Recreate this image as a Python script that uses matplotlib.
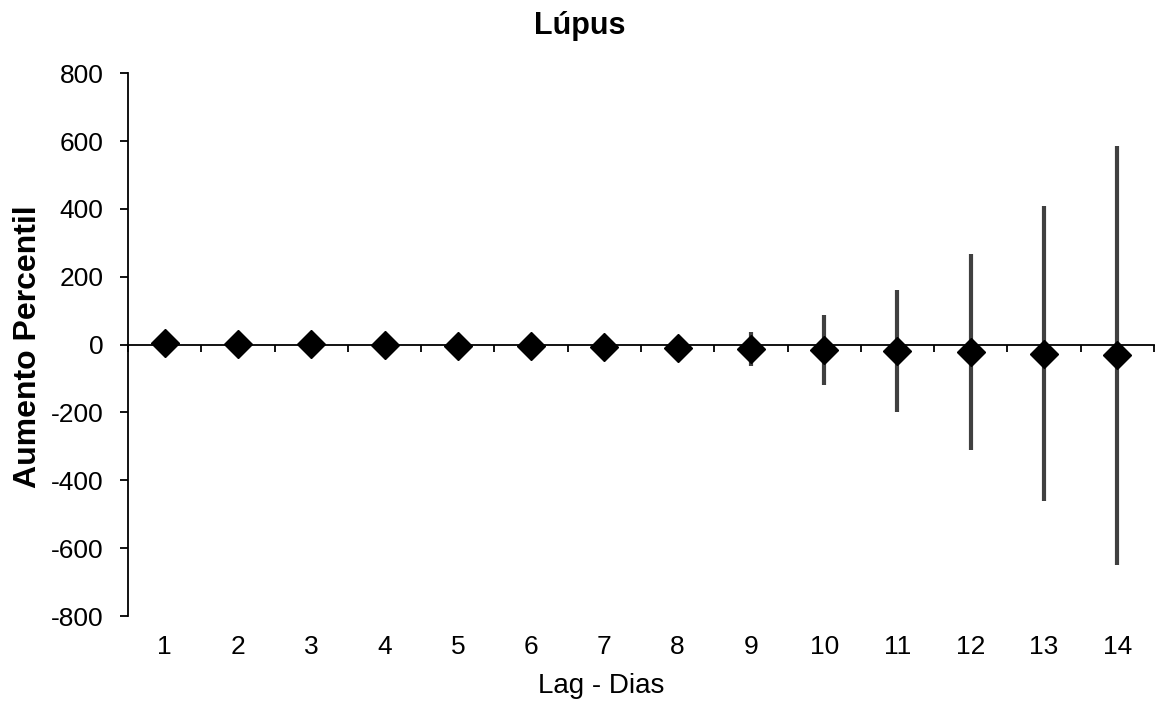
import numpy as np
import matplotlib
matplotlib.use("Agg")
from matplotlib import pyplot as plt

plt.rcParams['font.family'] = ['Liberation Sans', 'DejaVu Sans']
plt.rcParams['axes.unicode_minus'] = False

# percent increase per lag day with its confidence limits
lags = [1, 2, 3, 4, 5, 6, 7, 8, 9, 10, 11, 12, 13, 14]
pct = [5, 3, 1, -1, -3, -5, -7, -10, -14, -16, -19, -23, -27, -31]
lower = [0, -3, -6, -9, -12, -16, -21, -40, -63, -118, -199, -311, -461, -651]
upper = [10, 9, 8, 7, 6, 6, 7, 22, 36, 88, 162, 267, 408, 586]
yticks = [-800, -600, -400, -200, 0, 200, 400, 600, 800]

pct = np.array(pct)
lower = np.array(lower)
upper = np.array(upper)
xpos = np.arange(len(lags)) + 0.5

fig = plt.figure(figsize=(11.57, 7.04), dpi=100)
ax = fig.add_axes([128 / 1157, 1 - 616 / 704, 1026 / 1157, 542.7 / 704])

ax.errorbar(xpos, pct, yerr=[pct - lower, upper - pct], fmt='none',
            ecolor='#404040', elinewidth=3, capsize=0, zorder=2)
ax.plot(xpos, pct, linestyle='none', marker='D', ms=14,
        color='black', zorder=3)

ax.set_xlim(0, len(lags))
ax.set_ylim(-800, 800)

# category axis crosses at zero, ticks between the categories
ax.spines['top'].set_visible(False)
ax.spines['right'].set_visible(False)
ax.spines['bottom'].set_position(('data', 0))
ax.spines['bottom'].set_linewidth(1.3)
ax.spines['left'].set_linewidth(1.3)
ax.set_xticks(np.arange(len(lags) + 1))
ax.set_xticklabels([])
ax.tick_params(axis='x', direction='out', length=5, width=1.3)

ax.set_yticks(yticks)
ax.tick_params(axis='y', direction='out', length=5.5, width=1.3,
               labelsize=19, pad=12)

# category labels sit below the plot area
sec = ax.secondary_xaxis(0)
sec.set_xticks(xpos, labels=[str(v) for v in lags])
sec.tick_params(length=0, labelsize=19, pad=14)
sec.spines['bottom'].set_visible(False)

fig.text(580 / 1157, 1 - 34 / 704, 'Lúpus', ha='center', va='baseline',
         fontsize=22, weight='bold')
fig.text(601 / 1157, 1 - 693 / 704, 'Lag - Dias', ha='center',
         va='baseline', fontsize=20)
fig.text(28 / 1157, 1 - 347 / 704, 'Aumento Percentil', ha='center',
         va='center', rotation=90, fontsize=23, weight='bold')

fig.savefig('out.png', dpi=100)
